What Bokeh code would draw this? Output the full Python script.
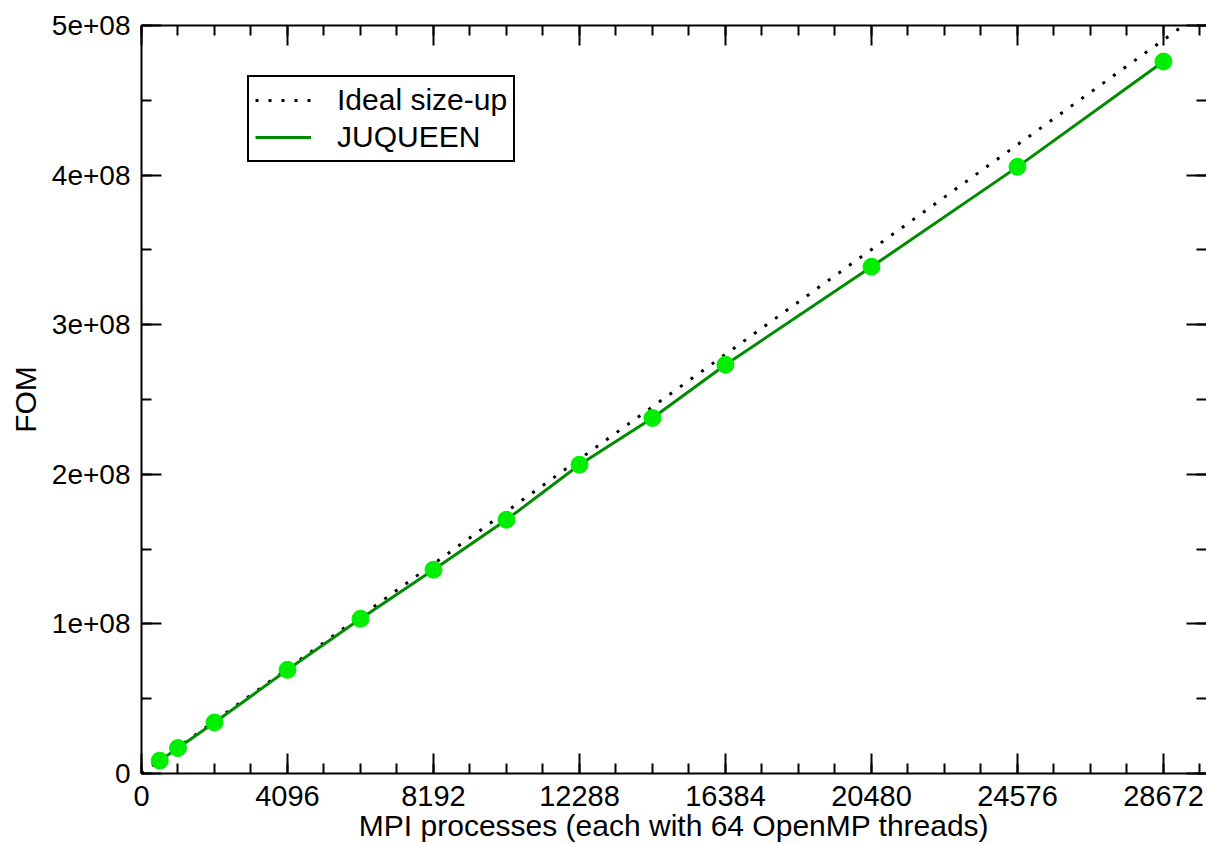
from bokeh.plotting import figure
from bokeh.models import (LinearAxis, SingleIntervalTicker, Range1d, Legend,
                          LegendItem, CustomJSTickFormatter, ColumnDataSource)
from bokeh.embed import file_html
from bokeh.resources import INLINE

# ---- data ----
procs = [512, 1024, 2048, 4096, 6144, 8192, 10240, 12288, 14336, 16384,
         20480, 24576, 28672]
fom = [8.6e6, 17.0e6, 34.1e6, 69.3e6, 103.4e6, 136.2e6, 169.6e6, 206.4e6,
       237.6e6, 273.2e6, 338.7e6, 405.5e6, 475.9e6]
ideal_x = [0, 30720]
ideal_y = [0, 5.254e8]
y_tick_values = [0, 1e8, 2e8, 3e8, 4e8, 5e8]
y_tick_labels = ["0", "1e+08", "2e+08", "3e+08", "4e+08", "5e+08"]

FONT = "Liberation Sans"

p = figure(width=1206, height=844, output_backend="svg", toolbar_location=None,
           x_range=Range1d(0, 29879), y_range=Range1d(0, 5e8),
           min_border_left=141, min_border_right=0, min_border_top=25,
           min_border_bottom=71, background_fill_color="white",
           border_fill_color="white", outline_line_color=None)
p.xgrid.visible = False
p.ygrid.visible = False

src = ColumnDataSource(dict(x=procs, y=fom))
r_ideal = p.line(ideal_x, ideal_y, line_color="black", line_width=3,
                 line_dash="3 10")
r_line = p.line("x", "y", source=src, line_color="#008c00", line_width=3)
p.scatter("x", "y", source=src, size=17, fill_color="#00ee00",
          line_color="#00ee00")


def style(ax, labels=True):
    ax.axis_line_color = "black"
    ax.axis_line_width = 2
    ax.major_tick_line_width = 2
    ax.minor_tick_line_width = 2
    ax.major_tick_in = 20
    ax.major_tick_out = 0
    ax.minor_tick_in = 10
    ax.minor_tick_out = 0
    ax.major_label_text_font = FONT
    ax.major_label_text_color = "black"
    ax.axis_label_text_font = FONT
    ax.axis_label_text_font_style = "normal"
    ax.axis_label_text_color = "black"
    if not labels:
        ax.formatter = CustomJSTickFormatter(code="return ''")
        ax.major_label_text_font_size = "0px"
        ax.major_label_standoff = 0


xa = p.xaxis[0]
xa.ticker = SingleIntervalTicker(interval=4096, num_minor_ticks=4)
style(xa)
xa.major_label_text_font_size = "29px"
xa.major_label_standoff = 12
xa.axis_label = "MPI processes (each with 64 OpenMP threads)"
xa.axis_label_text_font_size = "30px"
xa.axis_label_standoff = 0
xa.formatter = CustomJSTickFormatter(code="return String(Math.round(tick));")

ya = p.yaxis[0]
ya.ticker = SingleIntervalTicker(interval=1e8, num_minor_ticks=2)
style(ya)
ya.major_label_text_font_size = "28px"
ya.major_label_standoff = 11
ya.major_label_overrides = {v: s for v, s in zip(y_tick_values, y_tick_labels)}
ya.axis_label = "FOM"
ya.axis_label_text_font_size = "30px"
ya.axis_label_standoff = 7

top = LinearAxis(ticker=SingleIntervalTicker(interval=4096, num_minor_ticks=4))
style(top, labels=False)
p.add_layout(top, "above")

right = LinearAxis(ticker=SingleIntervalTicker(interval=1e8, num_minor_ticks=2))
style(right, labels=False)
right.axis_line_color = None
p.add_layout(right, "right")

legend = Legend(items=[LegendItem(label="Ideal size-up", renderers=[r_ideal]),
                       LegendItem(label="JUQUEEN", renderers=[r_line])],
                location=(106, 611), margin=0, padding=6, spacing=3,
                glyph_width=56, glyph_height=34, label_standoff=26,
                label_text_font=FONT, label_text_font_size="30px",
                label_text_color="black",
                border_line_color="black", border_line_width=2,
                border_line_alpha=1.0,
                background_fill_color="white", background_fill_alpha=1.0)
p.add_layout(legend, "center")

open("out.html", "w").write(file_html(p, INLINE))
